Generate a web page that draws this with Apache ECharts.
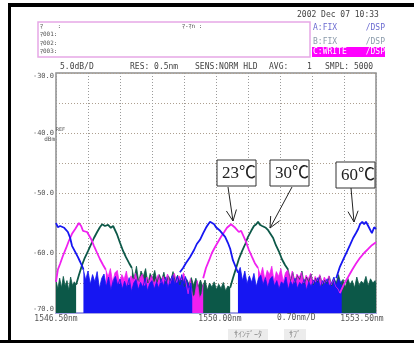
<!DOCTYPE html>
<html><head><meta charset="utf-8">
<script src="https://cdn.jsdelivr.net/npm/echarts@6/dist/echarts.min.js"></script>
<style>html,body{margin:0;padding:0;background:#fff;}#c{width:414px;height:343px;}</style>
</head><body><div id="c"></div>
<script>
// ---------- axis / tick data ----------
const startNm = 1546.50;          // left edge of the sweep
const nmPerDiv = 0.70;
const xTickLabels = ['1546.50nm', '1550.00nm', '1553.50nm'];
const yTickValues = [-70, -60, -50, -40, -30];
const yTickLabels = ['-70.0', '-60.0', '-50.0', '-40.0', '-30.0'];
const tempLabels = ['23℃', '30℃', '60℃'];

// ---------- trace data [wavelength nm, level dBm] ----------
// 60℃ trace (blue) — filter passband parts
const blueTraceA = [[1546.50,-55.0],[1546.54,-55.7],[1546.59,-55.5],[1546.63,-55.2],[1546.68,-55.8],[1546.72,-56.0],[1546.76,-56.5],[1546.81,-57.5],[1546.85,-58.8],[1546.92,-59.8],[1546.98,-60.7],[1547.03,-61.5],[1547.09,-62.5],[1547.10,-62.8]];
const blueTraceB = [[1549.21,-63.2],[1549.28,-62.5],[1549.34,-61.7],[1549.43,-60.7],[1549.52,-59.5],[1549.58,-58.5],[1549.65,-57.8],[1549.72,-56.7],[1549.78,-55.8],[1549.83,-55.2],[1549.87,-54.8],[1549.91,-54.5],[1549.96,-55.2],[1550.00,-55.7],[1550.04,-56.0],[1550.09,-56.3],[1550.13,-56.5],[1550.20,-57.3],[1550.26,-58.3],[1550.31,-59.3],[1550.37,-61.2],[1550.44,-62.5],[1550.48,-63.3]];
const blueTraceC = [[1552.63,-64.2],[1552.71,-62.3],[1552.80,-60.8],[1552.87,-59.7],[1552.93,-58.7],[1553.00,-57.5],[1553.06,-56.7],[1553.11,-56.0],[1553.15,-55.2],[1553.20,-54.8],[1553.24,-55.2],[1553.28,-54.8],[1553.33,-55.5],[1553.37,-55.8],[1553.41,-56.7],[1553.46,-55.7],[1553.50,-56.0]];
// 60℃ trace — noise floor (upper envelope)
const blueNoise1 = [[1547.10,-62.8],[1547.15,-64.5],[1547.20,-63.0],[1547.25,-65.2],[1547.30,-63.6],[1547.35,-64.8],[1547.40,-63.1],[1547.45,-65.9],[1547.50,-64.2],[1547.55,-63.5],[1547.60,-65.6],[1547.65,-64.0],[1547.70,-66.2],[1547.75,-64.6],[1547.80,-63.9],[1547.85,-65.4],[1547.90,-64.3],[1547.95,-66.0],[1548.00,-64.7],[1548.05,-65.8],[1548.10,-64.1],[1548.15,-66.4],[1548.20,-65.0],[1548.25,-64.4],[1548.30,-66.1],[1548.35,-64.9],[1548.40,-65.7],[1548.45,-64.2],[1548.50,-66.3],[1548.55,-65.1],[1548.60,-64.6],[1548.65,-66.0],[1548.70,-64.8],[1548.75,-65.9],[1548.80,-64.3],[1548.85,-65.5],[1548.90,-64.0],[1548.95,-65.8],[1549.00,-64.5],[1549.05,-63.7],[1549.10,-65.2],[1549.15,-63.9],[1549.21,-64.8],[1549.25,-63.6],[1549.29,-65.1],[1549.33,-63.9],[1549.37,-64.7],[1549.41,-65.8],[1549.45,-65.0],[1549.48,-66.4]];
const blueNoise2 = [[1550.48,-63.3],[1550.53,-62.4],[1550.58,-64.6],[1550.63,-63.0],[1550.68,-65.1],[1550.73,-63.8],[1550.78,-64.9],[1550.83,-63.4],[1550.88,-65.6],[1550.93,-64.2],[1550.98,-63.7],[1551.03,-65.3],[1551.08,-64.1],[1551.13,-65.8],[1551.18,-64.4],[1551.23,-63.9],[1551.28,-65.5],[1551.33,-64.6],[1551.38,-66.0],[1551.43,-64.8],[1551.48,-65.2],[1551.53,-64.0],[1551.58,-66.1],[1551.63,-64.7],[1551.68,-65.4],[1551.73,-64.2],[1551.78,-65.9],[1551.83,-64.9],[1551.88,-65.3],[1551.93,-64.4],[1551.98,-66.2],[1552.03,-64.8],[1552.08,-65.6],[1552.13,-64.5],[1552.18,-65.0],[1552.23,-64.1],[1552.28,-65.7],[1552.33,-64.6],[1552.38,-65.2],[1552.43,-64.3],[1552.48,-65.5],[1552.53,-64.9],[1552.58,-64.0],[1552.63,-65.4],[1552.68,-64.3],[1552.72,-65.0],[1552.75,-64.6]];

// 23℃ trace (magenta)
const magentaTraceA = [[1546.50,-64.8],[1546.54,-62.8],[1546.59,-61.8],[1546.65,-60.5],[1546.72,-59.2],[1546.78,-58.0],[1546.85,-56.8],[1546.92,-56.0],[1546.96,-55.5],[1547.00,-55.0],[1547.05,-55.5],[1547.09,-56.3],[1547.13,-56.0],[1547.18,-56.5],[1547.22,-56.8],[1547.27,-57.7],[1547.33,-58.8],[1547.40,-60.0],[1547.46,-61.0],[1547.53,-62.0],[1547.59,-62.8]];
const magentaTraceB = [[1549.72,-64.2],[1549.78,-62.5],[1549.85,-61.2],[1549.91,-60.0],[1549.98,-59.0],[1550.04,-58.2],[1550.11,-57.3],[1550.18,-56.5],[1550.24,-55.8],[1550.28,-55.5],[1550.33,-55.2],[1550.37,-55.5],[1550.42,-55.8],[1550.46,-56.0],[1550.50,-56.5],[1550.55,-56.3],[1550.59,-57.0],[1550.66,-58.2],[1550.72,-59.5],[1550.79,-60.7],[1550.85,-61.7],[1550.92,-62.5]];
const magentaTraceC = [[1552.71,-66.7],[1552.80,-65.2],[1552.89,-64.0],[1552.98,-62.8],[1553.06,-61.8],[1553.15,-60.8],[1553.24,-60.0],[1553.33,-59.3],[1553.41,-58.7],[1553.50,-58.2]];
const magentaNoise1 = [[1547.59,-62.8],[1547.64,-64.0],[1547.69,-62.6],[1547.74,-64.9],[1547.79,-63.3],[1547.84,-62.9],[1547.89,-65.1],[1547.94,-63.6],[1547.99,-64.4],[1548.04,-63.0],[1548.09,-65.3],[1548.14,-63.8],[1548.19,-64.6],[1548.24,-63.4],[1548.29,-65.0],[1548.34,-64.1],[1548.39,-63.5],[1548.44,-65.4],[1548.49,-64.0],[1548.54,-64.8],[1548.59,-63.7],[1548.64,-65.2],[1548.69,-64.3],[1548.74,-63.6],[1548.79,-65.0],[1548.84,-63.9],[1548.89,-64.7],[1548.94,-63.5],[1548.99,-65.1],[1549.04,-64.0],[1549.09,-63.4],[1549.14,-64.9],[1549.19,-63.8],[1549.24,-64.5],[1549.29,-63.3],[1549.34,-64.8],[1549.39,-66.8],[1549.44,-64.3],[1549.49,-67.4],[1549.54,-66.9],[1549.59,-64.6],[1549.64,-67.6],[1549.69,-66.8],[1549.72,-65.2]];
const magentaNoise2 = [[1550.92,-62.5],[1550.97,-63.8],[1551.02,-62.4],[1551.07,-64.5],[1551.12,-62.9],[1551.17,-63.6],[1551.22,-62.2],[1551.27,-64.7],[1551.32,-63.1],[1551.37,-63.9],[1551.42,-62.6],[1551.47,-64.8],[1551.52,-63.3],[1551.57,-62.8],[1551.62,-64.4],[1551.67,-63.0],[1551.72,-64.9],[1551.77,-63.5],[1551.82,-64.1],[1551.87,-63.2],[1551.92,-65.0],[1551.97,-63.7],[1552.02,-64.3],[1552.07,-63.4],[1552.12,-65.1],[1552.17,-63.9],[1552.22,-64.6],[1552.27,-63.6],[1552.32,-65.2],[1552.37,-64.0],[1552.42,-64.8],[1552.47,-63.8],[1552.52,-65.3],[1552.57,-64.4],[1552.62,-65.6],[1552.67,-66.0],[1552.71,-66.7]];

// 30℃ trace (dark green)
const tealTraceA = [[1546.94,-65.3],[1547.00,-63.7],[1547.07,-62.0],[1547.13,-60.8],[1547.20,-59.7],[1547.27,-58.5],[1547.33,-57.5],[1547.40,-56.5],[1547.46,-55.7],[1547.51,-55.2],[1547.57,-55.5],[1547.64,-55.3],[1547.70,-55.8],[1547.75,-55.5],[1547.79,-55.7],[1547.83,-56.8],[1547.90,-58.3],[1547.97,-59.7],[1548.03,-60.7],[1548.10,-61.7],[1548.16,-62.5]];
const tealTraceB = [[1550.31,-65.8],[1550.37,-64.2],[1550.44,-62.5],[1550.50,-61.0],[1550.57,-59.7],[1550.64,-58.5],[1550.70,-57.3],[1550.77,-56.3],[1550.83,-55.5],[1550.88,-55.2],[1550.92,-54.8],[1550.96,-55.3],[1551.01,-55.5],[1551.05,-55.3],[1551.09,-55.8],[1551.14,-56.2],[1551.18,-56.5],[1551.25,-57.5],[1551.31,-58.7],[1551.38,-59.8],[1551.44,-61.0],[1551.51,-62.0],[1551.58,-62.8]];
const tealNoiseA = [[1546.50,-64.5],[1546.54,-66.0],[1546.58,-64.2],[1546.62,-65.8],[1546.66,-63.9],[1546.70,-65.5],[1546.74,-64.6],[1546.78,-66.2],[1546.82,-64.0],[1546.86,-65.4],[1546.90,-64.8],[1546.94,-65.3]];
const tealNoiseB = [[1548.16,-62.5],[1548.21,-64.3],[1548.26,-62.2],[1548.31,-64.8],[1548.36,-63.0],[1548.41,-63.9],[1548.46,-62.6],[1548.51,-65.0],[1548.56,-63.4],[1548.61,-64.2],[1548.66,-62.9],[1548.71,-64.9],[1548.76,-63.6],[1548.81,-64.5],[1548.86,-63.2],[1548.91,-65.1],[1548.96,-63.8],[1549.01,-64.6],[1549.06,-63.1],[1549.11,-64.9],[1549.16,-63.7],[1549.21,-65.3],[1549.26,-64.0],[1549.31,-65.6],[1549.36,-64.4],[1549.41,-65.2],[1549.46,-64.1],[1549.51,-65.4],[1549.56,-64.2],[1549.61,-65.6],[1549.66,-64.5],[1549.71,-65.6],[1549.76,-64.5],[1549.81,-66.2],[1549.86,-65.0],[1549.91,-65.7],[1549.96,-64.8],[1550.01,-66.1],[1550.06,-65.2],[1550.11,-65.9],[1550.16,-64.9],[1550.21,-66.3],[1550.26,-65.5],[1550.31,-65.8]];
const tealNoiseC = [[1551.58,-62.8],[1551.63,-64.6],[1551.68,-63.2],[1551.73,-65.0],[1551.78,-63.7],[1551.83,-64.4],[1551.88,-63.0],[1551.93,-65.2],[1551.98,-64.0],[1552.03,-64.8],[1552.08,-63.5],[1552.13,-65.3],[1552.18,-64.2],[1552.23,-64.9],[1552.28,-63.8],[1552.33,-65.4],[1552.38,-64.5],[1552.43,-65.1],[1552.48,-63.9],[1552.53,-65.5],[1552.58,-64.3],[1552.63,-65.0],[1552.68,-63.6],[1552.73,-65.2],[1552.78,-64.4],[1552.83,-65.7],[1552.88,-64.1],[1552.93,-65.3],[1552.98,-64.6],[1553.03,-65.8],[1553.08,-64.0],[1553.13,-65.4],[1553.18,-64.7],[1553.23,-65.1],[1553.28,-63.9],[1553.33,-65.5],[1553.38,-64.3],[1553.43,-65.0],[1553.48,-64.6],[1553.50,-65.2]];

// ---------- styling ----------
const BLUE = '#1616f2', MAGENTA = '#f020f0', TEAL = '#0c5848';
const MONO = "'DejaVu Sans Mono','Noto Sans CJK JP',monospace";

function toXY(arr) { return arr.map(p => [+(p[0] - startNm).toFixed(4), p[1]]); }
function noise(arr, color) {
  return { type: 'line', data: toXY(arr), symbol: 'none', silent: true, animation: false, z: 2,
    lineStyle: { color: color, width: 0.8 }, areaStyle: { color: color, opacity: 1, origin: 'start' } };
}
function trace(arr, color) {
  return { type: 'line', data: toXY(arr), symbol: 'none', silent: true, animation: false, z: 3,
    lineStyle: { color: color, width: 1.8 } };
}
function txt(text, x, y, size, color, align, family) {
  return { type: 'text', silent: true, z: 50,
    style: { text: text, x: x, y: y, font: size + 'px ' + (family || MONO), fill: color,
      align: align || 'left', verticalAlign: 'middle', textAlign: align || 'left', textVerticalAlign: 'middle' } };
}
function rect(x, y, w, h, fill, stroke, lw, z) {
  return { type: 'rect', silent: true, z: z || 40, shape: { x: x, y: y, width: w, height: h },
    style: { fill: fill || 'none', stroke: stroke || 'none', lineWidth: lw || 0 } };
}
function arrow(sx, sy, tx, ty) {
  const dx = tx - sx, dy = ty - sy, L = Math.hypot(dx, dy);
  const bx = -dx / L, by = -dy / L, a = 25 * Math.PI / 180, len = 12;
  const w1 = [tx + len * (bx * Math.cos(a) - by * Math.sin(a)), ty + len * (bx * Math.sin(a) + by * Math.cos(a))];
  const w2 = [tx + len * (bx * Math.cos(a) + by * Math.sin(a)), ty + len * (-bx * Math.sin(a) + by * Math.cos(a))];
  return [
    { type: 'line', silent: true, z: 60, shape: { x1: sx, y1: sy, x2: tx, y2: ty }, style: { stroke: '#222', lineWidth: 1 } },
    { type: 'polyline', silent: true, z: 60, shape: { points: [w1, [tx, ty], w2] }, style: { stroke: '#222', lineWidth: 1, fill: 'none' } }
  ];
}

const gfx = [
  rect(8, 3, 406, 4, '#000', null, 0, 30),
  rect(8, 3, 3, 340, '#000', null, 0, 30),
  rect(0, 340, 414, 3, '#000', null, 0, 30),
  // marker box
  rect(38, 22, 272, 35, null, '#e6a8e6', 1.5),
  txt('ﾏ    :', 40, 26, 6, '#555'),
  txt('ﾏ001:', 40, 34, 6, '#555'),
  txt('ﾏ002:', 40, 43, 6, '#555'),
  txt('ﾏ003:', 40, 51, 6, '#555'),
  txt('ﾏ-ﾏn :', 182, 26, 6, '#555'),
  // date and trace status
  txt('2002 Dec 07 10:33', 297, 15, 8, '#444'),
  txt('A:FIX', 313, 28, 8, '#6a6ad0'), txt('/DSP', 385, 28, 8, '#6a6ad0', 'right'),
  txt('B:FIX', 313, 42, 8, '#8a9aaa'), txt('/DSP', 385, 42, 8, '#8a9aaa', 'right'),
  rect(312, 47, 73, 10, '#ff00ff', null, 0, 45),
  txt('C:WRITE', 313, 52, 8, '#fff'), txt('/DSP', 385, 52, 8, '#fff', 'right'),
  // header
  txt('5.0dB/D', 60, 67, 8, '#444'),
  txt('RES: 0.5nm', 130, 67, 8, '#444'),
  txt('SENS:NORM HLD', 195, 67, 8, '#444'),
  txt('AVG:', 269, 67, 8, '#444'),
  txt('1', 307, 67, 8, '#444'),
  txt('SMPL: 5000', 325, 67, 8, '#444'),
  // reference unit
  txt('REF', 56, 130, 5, '#555'),
  txt('dBm', 55, 139, 6, '#555', 'right'),
  txt('0.70nm/D', 277, 318, 8, '#555'),
  rect(228, 329, 40, 11, '#ececec', null, 0, 45),
  txt('ｻｲﾝﾃﾞｰﾀ', 248, 335, 8, '#888', 'center'),
  rect(284, 329, 22, 11, '#ececec', null, 0, 45),
  txt('ｻﾌﾞ', 295, 335, 8, '#888', 'center')
];
// temperature annotations
const boxes = [[217, 160], [270, 160], [336, 162]];
const arrows = [[228, 187, 233, 221], [292, 187, 270, 228], [351, 188, 354, 222]];
tempLabels.forEach((t, i) => {
  const b = boxes[i];
  gfx.push(rect(b[0], b[1], 39, 26, '#fff', null, 0, 55));
  gfx.push(Object.assign(txt(t, b[0] + 5, b[1] + 14, 17, '#222', 'left', "'Liberation Serif','Noto Sans CJK JP',serif"), { z: 56 }));
  gfx.push(rect(b[0], b[1], 39, 26, null, '#333', 1, 57));
  arrow.apply(null, arrows[i]).forEach(g => gfx.push(g));
});

const chart = echarts.init(document.getElementById('c'), null, { renderer: 'canvas' });
chart.setOption({
  animation: false,
  backgroundColor: '#fff',
  grid: { left: 56, top: 73, width: 320, height: 240, show: true, borderColor: '#8e8e8e', borderWidth: 1.5, backgroundColor: 'transparent' },
  xAxis: {
    type: 'value', min: 0, max: nmPerDiv * 10, interval: nmPerDiv,
    axisLine: { show: true, onZero: false, lineStyle: { color: '#a4a4e4', width: 2 } },
    axisTick: { show: false },
    splitLine: { show: true, lineStyle: { color: '#9a9a9a', type: [1, 2], width: 1 } },
    axisLabel: {
      margin: 2, fontSize: 8, fontFamily: MONO, color: '#555', showMinLabel: true, showMaxLabel: true,
      formatter: v => {
        if (Math.abs(v) < 1e-6) return xTickLabels[0];
        if (Math.abs(v - nmPerDiv * 5) < 1e-6) return '{c|' + xTickLabels[1] + '}';
        if (Math.abs(v - nmPerDiv * 10) < 1e-6) return '{r|' + xTickLabels[2] + '}';
        return '';
      },
      rich: { c: { fontSize: 8, fontFamily: MONO, color: '#555', padding: [0, 0, 0, 8] },
              r: { fontSize: 8, fontFamily: MONO, color: '#555', padding: [0, 28, 0, 0] } }
    }
  },
  yAxis: {
    type: 'value', min: -70, max: -30, interval: 5,
    axisLine: { show: false }, axisTick: { show: false },
    splitLine: { show: true, lineStyle: { color: '#ad9f8f', type: [1, 2], width: 1 } },
    axisLabel: {
      margin: 2, fontSize: 7, fontFamily: MONO, color: '#555', showMinLabel: true, showMaxLabel: true,
      verticalAlignMaxLabel: 'top', verticalAlignMinLabel: 'bottom',
      formatter: v => { const i = yTickValues.indexOf(Math.round(v)); return (i >= 0 && Math.abs(v - Math.round(v)) < 1e-6) ? yTickLabels[i] : ''; }
    }
  },
  series: [
    noise(tealNoiseA, TEAL), noise(tealNoiseB, TEAL), noise(tealNoiseC, TEAL),
    noise(magentaNoise1, MAGENTA), noise(magentaNoise2, MAGENTA),
    noise(blueNoise1, BLUE), noise(blueNoise2, BLUE),
    trace(tealTraceA, TEAL), trace(tealTraceB, TEAL),
    trace(magentaTraceA, MAGENTA), trace(magentaTraceB, MAGENTA), trace(magentaTraceC, MAGENTA),
    trace(blueTraceA, BLUE), trace(blueTraceB, BLUE), trace(blueTraceC, BLUE)
  ],
  graphic: { elements: gfx }
});
</script></body></html>
